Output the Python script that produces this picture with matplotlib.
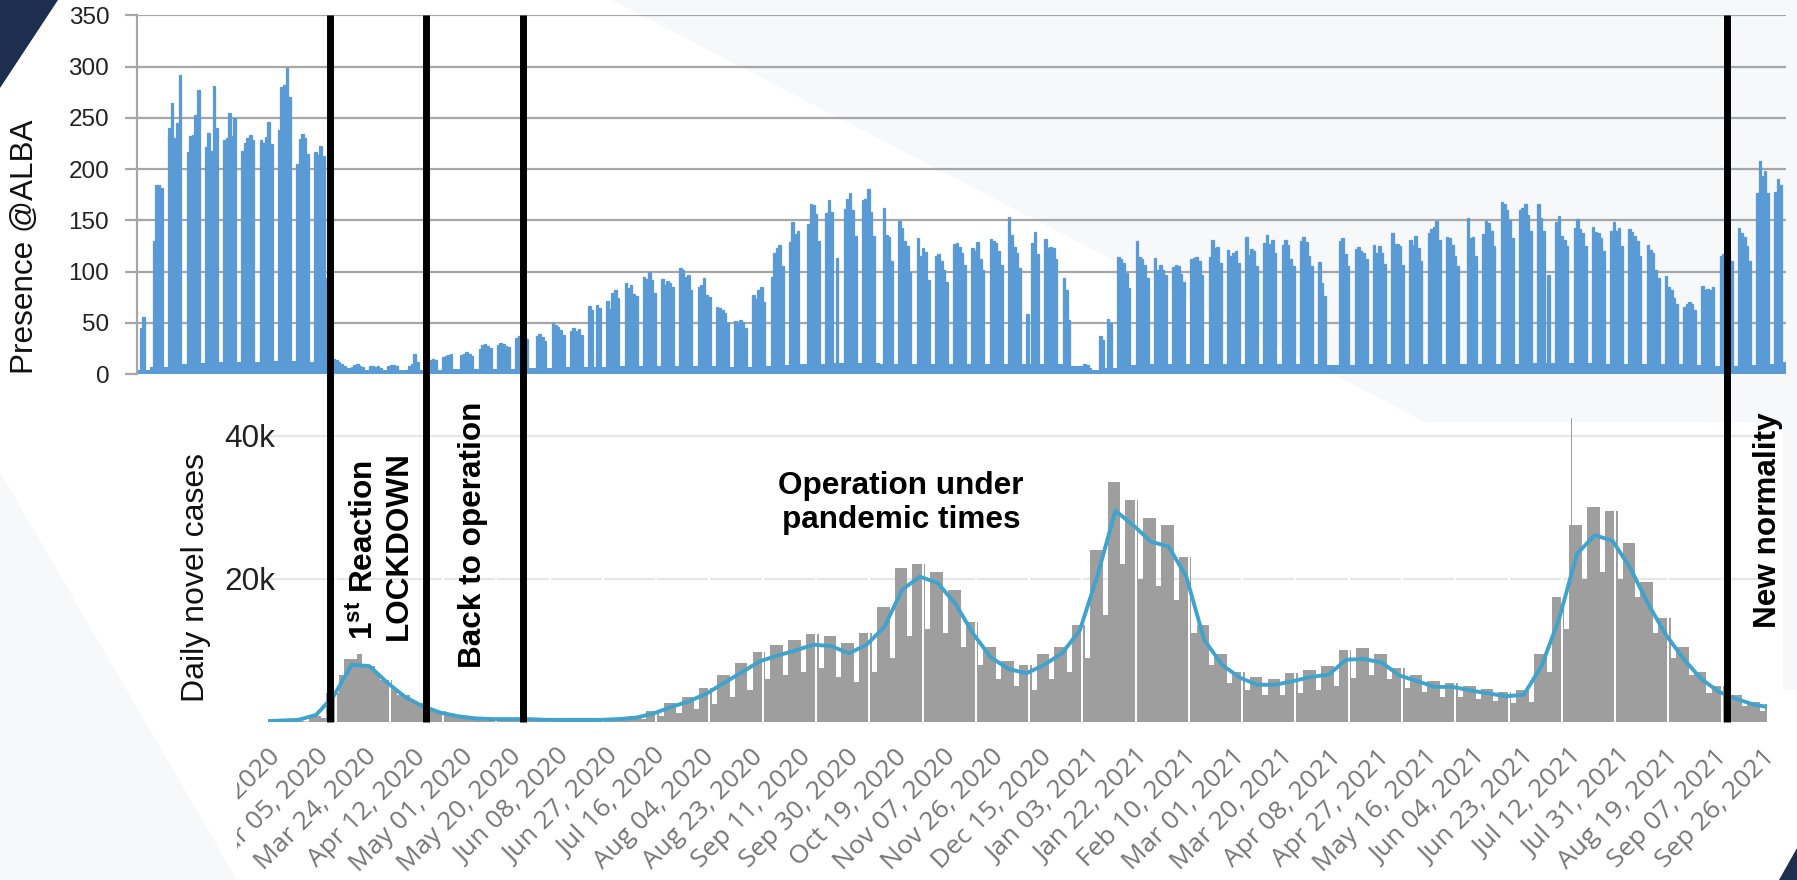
import numpy as np
import pandas as pd
import matplotlib
matplotlib.use('Agg')
import matplotlib.pyplot as plt
import matplotlib.dates as mdates
from matplotlib.patches import Polygon
from matplotlib.lines import Line2D
from matplotlib.transforms import blended_transform_factory, Bbox, TransformedBbox

plt.rcParams['font.family'] = ['Liberation Sans', 'DejaVu Sans']
plt.rcParams['mathtext.fontset'] = 'custom'
plt.rcParams['mathtext.rm'] = 'Liberation Sans'
plt.rcParams['mathtext.bf'] = 'Liberation Sans:bold'

# ==========================================
# data
# ==========================================

# ALBA presence: daytime peak of each weekday (Mon..Fri), weeks start on Mondays
alba_week0 = '2019-12-30'
alba_days = [
    [0, 0, 0, 45, 56], [0, 130, 185, 185, 182], [240, 265, 230, 245, 292],
    [217, 232, 233, 253, 277], [222, 235, 218, 281, 240], [228, 230, 255, 232, 250],
    [218, 226, 230, 233, 228], [228, 226, 231, 246, 225], [238, 280, 282, 299, 270],
    [205, 229, 234, 230, 215], [217, 214, 223, 213, 94], [15, 14, 12, 10, 8],
    [7, 9, 10, 8, 7], [8, 8, 7, 8, 6], [8, 9, 9, 8, 0], [0, 8, 10, 20, 12],
    [12, 15, 14, 15, 14], [17, 18, 19, 20, 0], [19, 20, 21, 20, 18],
    [24, 28, 29, 27, 25], [28, 30, 29, 27, 26], [35, 37, 38, 36, 34],
    [0, 37, 39, 36, 32], [50, 48, 46, 43, 38], [42, 45, 42, 44, 38],
    [66, 62, 0, 67, 64], [71, 63, 79, 82, 74], [89, 84, 87, 78, 76],
    [95, 93, 100, 92, 79], [93, 87, 91, 89, 85], [103, 102, 95, 97, 82],
    [85, 87, 94, 77, 75], [65, 64, 62, 60, 50], [52, 49, 53, 51, 45],
    [77, 73, 82, 85, 70], [95, 118, 123, 126, 105], [129, 148, 137, 140, 0],
    [146, 166, 165, 156, 130], [157, 170, 158, 0, 113], [161, 171, 177, 160, 135],
    [170, 171, 181, 158, 135], [0, 162, 136, 134, 110], [149, 143, 130, 125, 100],
    [133, 115, 123, 119, 92], [115, 117, 110, 102, 90], [127, 128, 124, 118, 106],
    [123, 120, 129, 112, 102], [132, 130, 128, 120, 106], [153, 136, 124, 118, 103],
    [59, 0, 128, 139, 117], [132, 123, 124, 123, 112], [94, 82, 53, 0, 0],
    [8, 10, 9, 6, 0], [37, 33, 0, 54, 50], [114, 112, 108, 99, 84],
    [130, 114, 112, 106, 94], [113, 102, 106, 102, 97], [104, 106, 105, 98, 90],
    [112, 113, 114, 110, 97], [114, 131, 123, 124, 108], [121, 115, 118, 120, 108],
    [134, 116, 122, 120, 105], [128, 136, 127, 131, 118], [126, 131, 126, 112, 105],
    [130, 134, 129, 115, 105], [109, 89, 76, 0, 0], [0, 130, 133, 117, 105],
    [122, 124, 120, 118, 112], [126, 118, 125, 118, 107], [138, 127, 127, 125, 106],
    [131, 126, 135, 123, 110], [138, 142, 144, 149, 131], [134, 133, 126, 115, 105],
    [0, 152, 133, 134, 115], [137, 149, 147, 140, 125], [168, 166, 160, 150, 133],
    [160, 162, 166, 155, 140], [166, 152, 140, 0, 97], [148, 154, 135, 131, 125],
    [143, 151, 142, 138, 125], [144, 139, 138, 133, 120], [140, 148, 140, 143, 125],
    [142, 139, 135, 130, 115], [126, 121, 118, 102, 94], [96, 85, 82, 74, 68],
    [65, 68, 70, 68, 62], [86, 82, 83, 82, 85], [115, 117, 120, 118, 110],
    [143, 138, 134, 125, 110], [177, 208, 193, 198, 177], [178, 190, 185, 0, 0],
]
# night / weekend presence, one value per week
alba_floor = [4, 7, 10, 11, 12, 12, 12, 13, 13, 12, 11,
              6, 4, 4, 4, 4, 4, 5, 5, 5, 5, 6, 6,
              7, 7, 7, 8, 8, 8, 8, 8, 8, 7, 7, 8,
              9, 10, 10, 11, 11, 11, 10, 10, 10, 10, 10, 10, 10, 10, 10, 10, 8,
              4, 6,
              9, 10, 10, 10, 10, 10, 10, 10, 10, 10, 10, 9, 9, 10, 10, 10, 10, 10, 10, 10,
              10, 10, 11, 11, 11, 11, 10, 10, 10, 10, 10, 9, 8, 8, 9, 10, 12]

# phase changes (ALBA timeline)
event_dates = ['2020-03-15', '2020-04-21', '2020-05-28', '2021-09-02']

# daily novel cases (thousands), weeks starting Monday 2020-02-17
cases_week0 = '2020-02-17'
cases_weekday = [0.05, 0.1, 0.8, 4.0, 8.8, 7.8, 5.8, 3.8, 2.6, 1.6,
                 1.0, 0.7, 0.5, 0.45, 0.4, 0.35, 0.35, 0.35, 0.4, 0.5,
                 0.8, 1.5, 2.6, 3.5, 4.8, 6.5, 8.3, 9.8, 10.8, 11.5,
                 12.3, 12.0, 11.0, 12.5, 16.0, 21.5, 22.0, 21.0, 18.5, 14.0,
                 10.5, 8.5, 8.0, 9.5, 10.5, 13.5, 24.0, 33.5, 31.0, 28.5,
                 27.5, 23.0, 13.5, 9.5, 7.0, 6.3, 6.0, 6.8, 7.2, 7.8,
                 10.0, 10.3, 9.5, 7.5, 6.5, 5.7, 5.5, 5.0, 4.6, 4.2,
                 4.5, 9.5, 17.5, 27.5, 30.0, 29.5, 25.0, 19.5, 14.5, 10.5,
                 7.0, 5.0, 3.8, 2.8, 2.5]
cases_weekend = [0.02, 0.05, 0.6, 6.5, 9.5, 6.8, 4.6, 3.0, 2.0, 1.2,
                 0.7, 0.4, 0.3, 0.3, 0.25, 0.2, 0.2, 0.2, 0.2, 0.25,
                 0.4, 0.8, 1.2, 1.8, 2.5, 3.5, 4.5, 6.0, 6.5, 7.0,
                 7.5, 6.3, 5.6, 7.0, 9.0, 12.0, 13.0, 12.5, 10.5, 8.0,
                 6.0, 5.0, 4.5, 6.0, 7.0, 9.0, 15.0, 22.0, 20.0, 19.0,
                 17.0, 12.5, 8.0, 5.5, 4.5, 3.8, 3.8, 4.0, 4.5, 5.0,
                 6.2, 6.5, 6.0, 4.8, 4.2, 3.5, 3.5, 3.2, 3.0, 2.6,
                 2.8, 7.0, 13.0, 20.0, 21.0, 20.0, 17.5, 12.5, 9.0, 6.5,
                 4.0, 3.0, 2.2, 1.6, 1.5]
cases_spike_day = '2021-07-13'
cases_spike = 42.4
# 7-day average (thousands), weekly on Thursdays from 2020-02-13
avg_day0 = '2020-02-13'
cases_avg = [0.1, 0.2, 0.3, 1.0, 3.7, 8.0, 7.8, 5.5, 3.5, 2.2, 1.3,
             0.8, 0.5, 0.4, 0.4, 0.4, 0.3, 0.3, 0.3, 0.3, 0.4,
             0.6, 1.2, 2.1, 2.9, 4.0, 5.5, 7.0, 8.5, 9.3, 10.0,
             10.8, 10.6, 9.6, 10.8, 13.3, 18.5, 20.3, 19.4, 16.5, 12.3,
             9.0, 7.4, 6.8, 8.0, 9.6, 12.8, 20.5, 29.5, 27.5, 25.2,
             24.5, 20.3, 11.5, 8.0, 6.2, 5.2, 5.2, 5.7, 6.3, 6.6,
             8.7, 8.8, 8.3, 6.5, 5.7, 4.9, 4.9, 4.4, 4.0, 3.6,
             3.8, 7.8, 14.5, 23.5, 26.1, 25.3, 21.5, 16.5, 12.2, 8.8,
             6.0, 4.2, 3.2, 2.4, 2.0]

# ==========================================
# layout helpers (pixel boxes measured from the top-left)
# ==========================================
W, H = 1797, 880
fig = plt.figure(figsize=(W / 100, H / 100), dpi=100)
fig.patch.set_facecolor('white')


def px_rect(x0, y0, x1, y1):
    return [x0 / W, 1 - y1 / H, (x1 - x0) / W, (y1 - y0) / H]


def px_poly(pts, color):
    fig.add_artist(Polygon([(x / W, 1 - y / H) for x, y in pts], closed=True,
                           transform=fig.transFigure, facecolor=color,
                           edgecolor='none', zorder=-2))


def dnum(s):
    return mdates.date2num(pd.Timestamp(s))


# slide decoration
px_poly([(612, 0), (W, 0), (W, 690), (1783, 690), (1783, 422), (1425, 422)], '#f7f8fa')
px_poly([(0, 472), (237, H), (0, H)], '#f7f8fa')
px_poly([(0, 0), (58, 0), (0, 88)], '#1c2f4e')
px_poly([(1779, H), (W, 848), (W, H)], '#1c2f4e')

# ==========================================
# top: presence at ALBA
# ==========================================
ax1 = fig.add_axes(px_rect(137, 15.5, 1786, 374))
ax1.patch.set_alpha(0)
w0 = dnum(alba_week0)
xs, hs = [], []
for i, week in enumerate(alba_days):
    for d, v in enumerate(week):
        xs.append(w0 + 7 * i + d)
        hs.append(v)
blue = '#5b9bd5'
ax1.bar([w0 + 7 * i for i in range(len(alba_floor))], alba_floor, width=7,
        align='edge', color=blue, linewidth=0, zorder=2)
ax1.bar(xs, hs, width=1.0, align='edge', color=blue, edgecolor=blue,
        linewidth=0.9, zorder=2)
ax1.set_xlim(dnum('2020-01-01'), dnum('2021-09-24 12:00'))
ax1.set_ylim(0, 350)
ax1.set_yticks(range(0, 351, 50))
ax1.set_xticks([])
ax1.yaxis.grid(True, color='#a6a6a6', linewidth=1.6)
ax1.set_axisbelow(True)
for s in ['top', 'right', 'bottom']:
    ax1.spines[s].set_visible(False)
ax1.spines['left'].set_color('#a6a6a6')
ax1.spines['left'].set_linewidth(1.6)
ax1.tick_params(axis='y', length=9, width=1.6, color='#a6a6a6', pad=11,
                labelsize=17.5, labelcolor='#222222')
fig.text(25 / W, 1 - 247 / H, 'Presence @ALBA', rotation=90, ha='center',
         va='center', fontsize=22.7, color='#111111')

# ==========================================
# bottom: daily novel cases
# ==========================================
kpx = 7.16
ax2 = fig.add_axes(px_rect(268, 722 - 46 * kpx, 1767, 722))
ax2.patch.set_alpha(0)
c0 = dnum(cases_week0)
weeks = np.arange(len(cases_weekday))
gray = '#9e9e9e'
ax2.bar(c0 + 7 * weeks, cases_weekday, width=5, align='edge', color=gray,
        linewidth=0, zorder=2)
ax2.bar(c0 + 7 * weeks + 5, cases_weekend, width=2, align='edge', color=gray,
        linewidth=0, zorder=2)
ax2.bar(dnum(cases_spike_day), cases_spike, width=0.4, color=gray, linewidth=0,
        zorder=2)
# white vertical grid every three weeks, drawn over the bars
grid_days = mdates.date2num(pd.date_range('2020-03-13', '2021-09-28', freq='21D'))
ax2.vlines(grid_days, 0, 36, color='white', linewidth=1.4, zorder=2.5)
a0 = dnum(avg_day0)
ax2.plot(a0 + 7 * np.arange(len(cases_avg)), cases_avg, color='#3fa3cd',
         linewidth=2.8, zorder=3, solid_joinstyle='round')
ax2.axhline(0, color='#c9cfe6', linewidth=2, zorder=1)
ax2.set_xlim(dnum('2020-02-15'), dnum('2021-09-27 21:00'))
ax2.set_ylim(0, 46)
ax2.set_yticks([20, 40])
ax2.set_yticklabels(['20k', '40k'])
ax2.yaxis.grid(True, color='#e6e6e6', linewidth=1.6)
ax2.set_axisbelow(True)
for s in ax2.spines.values():
    s.set_visible(False)
ax2.tick_params(axis='y', length=0, pad=-5, labelsize=22.8, labelcolor='#222222')
tick_dates = pd.date_range('2020-02-15', '2021-09-26', freq='19D')
ax2.set_xticks(mdates.date2num(tick_dates))
ax2.set_xticklabels([d.strftime('%b %d, %Y') for d in tick_dates], rotation=45,
                    ha='right', va='top', rotation_mode='anchor', fontsize=19,
                    color='#767676', family='Open Sans')
ax2.tick_params(axis='x', length=0, pad=16)
clip = TransformedBbox(Bbox.from_extents(237 / W, 0, 1, 1), fig.transFigure)
for lbl in ax2.get_xticklabels():
    lbl.set_clip_box(clip)
    lbl.set_clip_on(True)
fig.text(196 / W, 1 - 577 / H, 'Daily novel cases', rotation=90, ha='center',
         va='center', fontsize=23, color='#111111')

# phase annotations
bold = dict(fontsize=22.7, fontweight='bold', color='black', clip_on=False)
ax2.text(dnum('2020-03-30 12:00'), 11.45, '1$^{\\mathbf{st}}$ Reaction\nLOCKDOWN',
         rotation=90, ha='center', va='bottom', multialignment='left', **bold)
ax2.text(dnum('2020-05-05 18:00'), 7.5, 'Back to operation', rotation=90,
         ha='center', va='bottom', **bold)
ax2.text(dnum('2020-10-21 12:00'), 30.6, 'Operation under\npandemic times',
         ha='center', va='center', multialignment='center', **bold)
ax2.text(dnum('2021-09-28 06:00'), 13.1, 'New normality', rotation=90,
         ha='center', va='bottom', **bold)

# phase separators across both panels
trans = blended_transform_factory(ax1.transData, fig.transFigure)
for d in event_dates:
    x = dnum(d)
    fig.add_artist(Line2D([x, x], [1 - 15 / H, 1 - 722 / H], transform=trans,
                          color='black', linewidth=5.0, solid_capstyle='butt',
                          zorder=5))

fig.savefig('out.png', dpi=100)
